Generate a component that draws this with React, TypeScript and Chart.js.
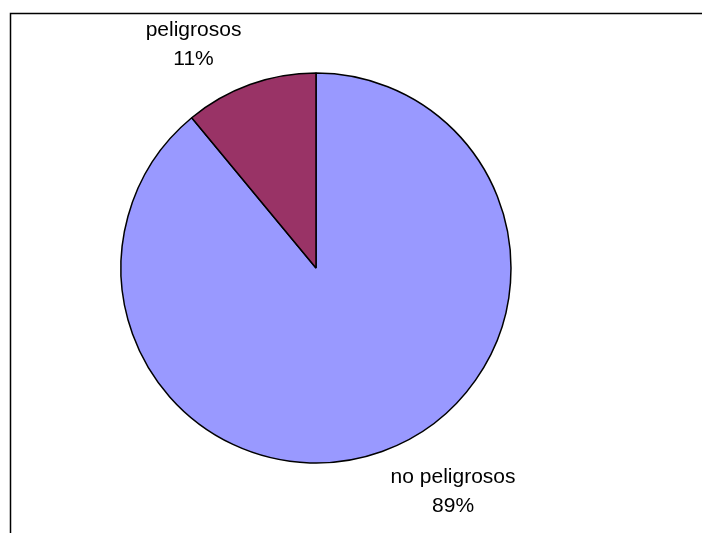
import React, { useEffect, useRef } from "react";
import { Chart, registerables } from "chart.js";

Chart.register(...registerables);

const categories: string[] = ["no peligrosos", "peligrosos"];
const values: number[] = [89, 11];
const colors: string[] = ["#9999FF", "#993366"];

const framePlugin = {
  id: "frame",
  beforeDraw(chart: any) {
    const ctx = chart.ctx;
    ctx.save();
    ctx.fillStyle = "#ffffff";
    ctx.fillRect(0, 0, chart.width, chart.height);
    ctx.strokeStyle = "#000000";
    ctx.lineWidth = 1.5;
    ctx.beginPath();
    ctx.moveTo(10.5, chart.height + 2);
    ctx.lineTo(10.5, 13.5);
    ctx.lineTo(chart.width + 2, 13.5);
    ctx.stroke();
    ctx.restore();
  },
};

const labelPlugin = {
  id: "outsideLabels",
  afterDatasetsDraw(chart: any) {
    const ctx = chart.ctx;
    const meta = chart.getDatasetMeta(0);
    const data: number[] = chart.data.datasets[0].data;
    const total = data.reduce((a, b) => a + b, 0);
    const lineH = 29;
    ctx.save();
    ctx.font = "21px 'Liberation Sans', Arial, sans-serif";
    ctx.fillStyle = "#000000";
    ctx.textAlign = "center";
    ctx.textBaseline = "middle";
    meta.data.forEach((arc: any, i: number) => {
      const { x, y, startAngle, endAngle, outerRadius } = arc.getProps(
        ["x", "y", "startAngle", "endAngle", "outerRadius"],
        true
      );
      const mid = (startAngle + endAngle) / 2;
      const cos = Math.cos(mid);
      const sin = Math.sin(mid);
      const ax = x + cos * (outerRadius + 12) + Math.sign(cos) * 4.5;
      const ay = y + sin * (outerRadius + 12);
      const lines = [
        String(chart.data.labels[i]),
        Math.round((data[i] / total) * 100) + "%",
      ];
      const w = Math.max(...lines.map((l) => ctx.measureText(l).width));
      const h = lines.length * lineH;
      const left = cos < 0 ? ax - w : ax;
      const top = sin < 0 ? ay - h : ay;
      lines.forEach((l, k) => {
        ctx.fillText(l, left + w / 2, top + lineH / 2 + k * lineH);
      });
    });
    ctx.restore();
  },
};

export default function App() {
  const ref = useRef<HTMLCanvasElement>(null);
  useEffect(() => {
    document.body.style.margin = "0";
    document.body.style.overflow = "hidden";
    if (!ref.current) return;
    const chart = new Chart(ref.current, {
      type: "pie",
      data: {
        labels: categories,
        datasets: [
          {
            data: values,
            backgroundColor: colors,
            borderColor: "#000000",
            borderWidth: 1.5,
            radius: 195,
          } as any,
        ],
      },
      options: {
        responsive: false,
        animation: false,
        rotation: 0,
        layout: { padding: { left: 0, right: 70, top: 3, bottom: 0 } },
        plugins: {
          legend: { display: false },
          tooltip: { enabled: false },
        },
      },
      plugins: [framePlugin, labelPlugin],
    });
    return () => chart.destroy();
  }, []);
  return (
    <div style={{ width: 702, height: 533 }}>
      <canvas ref={ref} width={702} height={533} style={{ display: "block" }} />
    </div>
  );
}
